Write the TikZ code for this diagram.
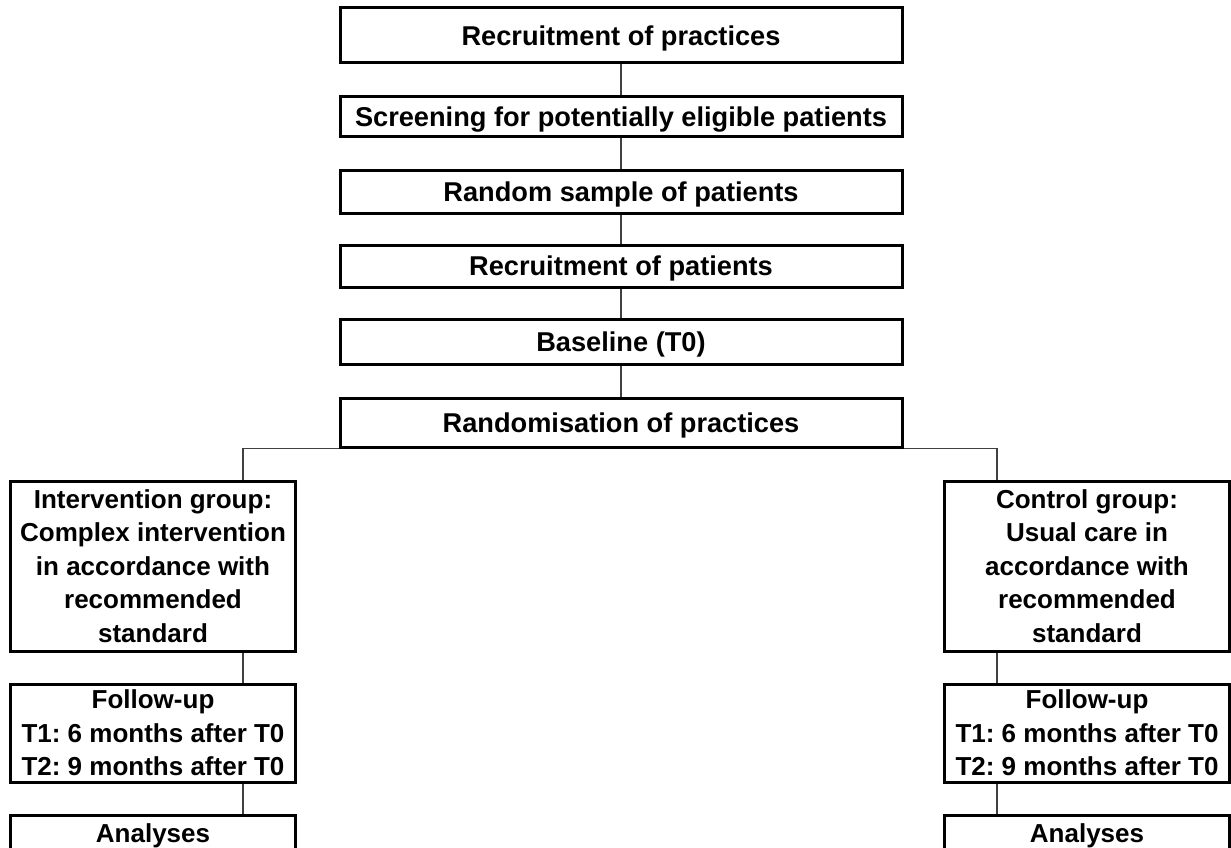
\documentclass[tikz,border=0pt]{standalone}
\usepackage{fontspec}
\setmainfont{Liberation Sans}
\usetikzlibrary{backgrounds}
\frenchspacing
\tikzset{
  box/.style={draw=black, line width=3pt, fill=white, inner sep=0pt, align=center, text depth=0pt},
  topbox/.style={box, minimum width=562pt, font=\fontsize{27.2}{33.5}\selectfont\bfseries},
  sidebox/.style={box, minimum width=285pt, font=\fontsize{26}{33.5}\selectfont\bfseries},
  conn/.style={draw=black!75, line width=1.4pt}
}
\begin{document}
\begin{tikzpicture}[x=1pt,y=-1pt]
\useasboundingbox (0,0) rectangle (1231,848);
% top column
\node[topbox, minimum height=55pt] (t1) at (621,35.5) {Recruitment of practices};
\node[topbox, minimum height=40pt] (t2) at (621,117) {Screening for potentially eligible patients};
\node[topbox, minimum height=43pt] (t3) at (621,191.5) {Random sample of patients};
\node[topbox, minimum height=42pt] (t4) at (621,266) {Recruitment of patients};
\node[topbox, minimum height=45pt] (t5) at (621,341.5) {Baseline (T0)};
\node[topbox, minimum height=49pt] (t6) at (621,422.5) {Randomisation of practices};
% left column
\node[sidebox, minimum height=170pt] (l1) at (153,566) {Intervention group:\\Complex intervention\\in accordance with\\recommended\\standard};
\node[sidebox, minimum height=98pt] (l2) at (153,733) {Follow-up\\T1: 6 months after T0\\T2: 9 months after T0};
\node[sidebox, minimum height=37pt] (l3) at (153,833.5) {Analyses};
% right column
\node[sidebox, minimum height=170pt] (r1) at (1087,566) {Control group:\\Usual care in\\accordance with\\recommended\\standard};
\node[sidebox, minimum height=98pt] (r2) at (1087,733) {Follow-up\\T1: 6 months after T0\\T2: 9 months after T0};
\node[sidebox, minimum height=37pt] (r3) at (1087,833.5) {Analyses};
% connector columns
\coordinate (lx) at (243,0);
\coordinate (rx) at (997,0);
\begin{scope}[on background layer]
\draw[conn] (t1.south) -- (t2.north);
\draw[conn] (t2.south) -- (t3.north);
\draw[conn] (t3.south) -- (t4.north);
\draw[conn] (t4.south) -- (t5.north);
\draw[conn] (t5.south) -- (t6.north);
\draw[conn] (l1.north -| lx) |- (t6.south) -| (r1.north -| rx);
\draw[conn] (l1.south -| lx) -- (l2.north -| lx);
\draw[conn] (l2.south -| lx) -- (l3.north -| lx);
\draw[conn] (r1.south -| rx) -- (r2.north -| rx);
\draw[conn] (r2.south -| rx) -- (r3.north -| rx);
\end{scope}
\end{tikzpicture}
\end{document}
